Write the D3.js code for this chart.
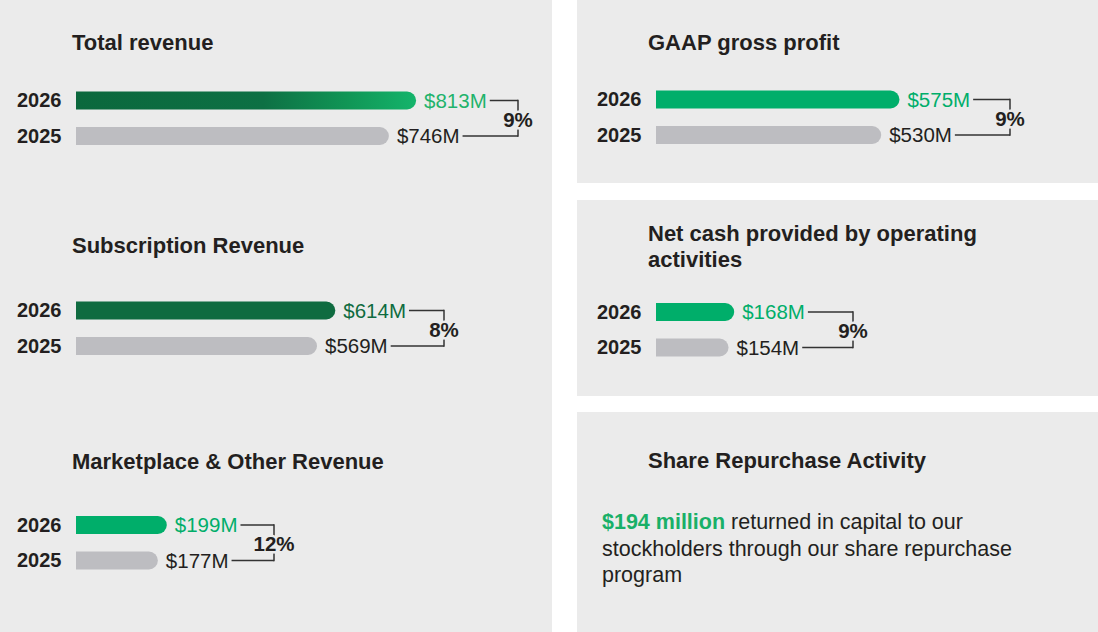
<!DOCTYPE html>
<html>
<head>
<meta charset="utf-8">
<script src="https://cdn.jsdelivr.net/npm/d3@7/dist/d3.min.js"></script>
<style>
  body { margin: 0; background: #ffffff; }
  svg { display: block; font-family: "Liberation Sans", Arial, sans-serif; }
</style>
</head>
<body>
<div id="chart"></div>
<script>
// Data ($ millions)
//=====================================================================
var years = ["2026", "2025"];
var totalRevenue = [813, 746];
var subscriptionRevenue = [614, 569];
var marketplaceRevenue = [199, 177];
var gaapGrossProfit = [575, 530];
var netCash = [168, 154];
var growth = ["9%", "8%", "12%", "9%", "9%"];
var repurchaseAmount = "$194 million";
var repurchaseText = [" returned in capital to our", "stockholders through our share repurchase", "program"];

// Set up page and panel geometry
//=====================================================================
var svgWidth = 1098;
var svgHeight = 632;

var panelColor = "#ebebeb";
var textColor = "#231f20";
var green = "#00ae6a";
var darkGreen = "#0f6b40";
var grey = "#bdbdc1";

var panels = [
    { x: 0, y: 0, w: 552, h: 632 },
    { x: 577, y: 0, w: 521, h: 183 },
    { x: 577, y: 200, w: 521, h: 196 },
    { x: 577, y: 412, w: 521, h: 220 }
];

var charts = [
    { title: ["Total revenue"], values: totalRevenue, pct: growth[0], left: 0, titleX: 72, titleY: 50, cy: 100.5, bracketX: 518, fill: "url(#revGrad)", labelColor: "#1fb36c" },
    { title: ["Subscription Revenue"], values: subscriptionRevenue, pct: growth[1], left: 0, titleX: 72, titleY: 253, cy: 310.5, bracketX: 444, fill: darkGreen, labelColor: darkGreen },
    { title: ["Marketplace & Other Revenue"], values: marketplaceRevenue, pct: growth[2], left: 0, titleX: 72, titleY: 469, cy: 525, bracketX: 274, fill: green, labelColor: green },
    { title: ["GAAP gross profit"], values: gaapGrossProfit, pct: growth[3], left: 580, titleX: 648, titleY: 50, cy: 99.5, bracketX: 1010, fill: green, labelColor: green },
    { title: ["Net cash provided by operating", "activities"], values: netCash, pct: growth[4], left: 580, titleX: 648, titleY: 241, cy: 312, bracketX: 853, fill: green, labelColor: green }
];

var barHeight = 18;
var rowGap = 35.5;

// bar length scale, shared by all charts (rounded cap adds a few px)
var xScale = d3.scaleLinear()
    .domain([0, 1000])
    .range([10, 416]);

var svg = d3.select("#chart")
    .append("svg")
    .attr("width", svgWidth)
    .attr("height", svgHeight);

var defs = svg.append("defs");
var grad = defs.append("linearGradient")
    .attr("id", "revGrad")
    .attr("x1", "0").attr("x2", "1").attr("y1", "0").attr("y2", "0");
grad.append("stop").attr("offset", "0").attr("stop-color", "#0b683d");
grad.append("stop").attr("offset", "0.55").attr("stop-color", "#0d7044");
grad.append("stop").attr("offset", "0.8").attr("stop-color", "#109656");
grad.append("stop").attr("offset", "1").attr("stop-color", "#14b46b");

// Panels
//=====================================================================
svg.selectAll("rect.panel")
    .data(panels)
    .enter()
    .append("rect")
    .attr("class", "panel")
    .attr("x", d => d.x)
    .attr("y", d => d.y)
    .attr("width", d => d.w)
    .attr("height", d => d.h)
    .attr("fill", panelColor);

// bar with a square left end and a round right end
function barPath(x, y, w, h) {
    var r = h / 2;
    return "M" + x + "," + y +
        "H" + (x + w - r) +
        "A" + r + "," + r + " 0 0 1 " + (x + w - r) + "," + (y + h) +
        "H" + x + "Z";
}

// Draw each chart
//=====================================================================
charts.forEach(function (c) {
    var g = svg.append("g");
    var yearX = c.left + 17;
    var barX = c.left + 76;

    g.selectAll("text.title")
        .data(c.title)
        .enter()
        .append("text")
        .attr("class", "title")
        .attr("x", c.titleX)
        .attr("y", (d, i) => c.titleY + i * 26)
        .attr("fill", textColor)
        .style("font-size", "22px")
        .style("font-weight", "bold")
        .text(d => d);

    var rows = c.values.map(function (v, i) {
        return { year: years[i], value: v, cy: c.cy + i * rowGap, i: i };
    });

    g.selectAll("text.year")
        .data(rows)
        .enter()
        .append("text")
        .attr("class", "year")
        .attr("x", yearX)
        .attr("y", d => d.cy + 6.5)
        .attr("fill", textColor)
        .style("font-size", "20px")
        .style("font-weight", "bold")
        .text(d => d.year);

    g.selectAll("path.bar")
        .data(rows)
        .enter()
        .append("path")
        .attr("class", "bar")
        .attr("d", d => barPath(barX, d.cy - barHeight / 2, xScale(d.value), barHeight))
        .attr("fill", d => d.i === 0 ? c.fill : grey);

    var labels = g.selectAll("text.value")
        .data(rows)
        .enter()
        .append("text")
        .attr("class", "value")
        .attr("x", d => barX + xScale(d.value) + 8)
        .attr("y", d => d.cy + 7)
        .attr("fill", d => d.i === 0 ? c.labelColor : textColor)
        .style("font-size", "20.5px")
        .text(d => "$" + d.value + "M");

    // bracket joining the two labels
    labels.each(function (d) {
        var end = barX + xScale(d.value) + 8 + this.getComputedTextLength() + 3;
        g.append("line")
            .attr("x1", end).attr("x2", c.bracketX)
            .attr("y1", d.cy).attr("y2", d.cy)
            .attr("stroke", "#333")
            .attr("stroke-width", 1.5);
    });
    g.append("line")
        .attr("x1", c.bracketX).attr("x2", c.bracketX)
        .attr("y1", rows[0].cy - 0.75).attr("y2", rows[1].cy + 0.75)
        .attr("stroke", "#333")
        .attr("stroke-width", 1.5);

    g.append("text")
        .attr("x", c.bracketX)
        .attr("y", (rows[0].cy + rows[1].cy) / 2 + 8.5)
        .attr("text-anchor", "middle")
        .attr("fill", textColor)
        .attr("stroke", panelColor)
        .attr("stroke-width", 5)
        .attr("paint-order", "stroke")
        .style("font-size", "20.5px")
        .style("font-weight", "bold")
        .text(c.pct);
});

// Share repurchase panel
//=====================================================================
svg.append("text")
    .attr("x", 648)
    .attr("y", 468)
    .attr("fill", textColor)
    .style("font-size", "22px")
    .style("font-weight", "bold")
    .text("Share Repurchase Activity");

var body = svg.append("text")
    .attr("fill", textColor)
    .style("font-size", "21.5px");

repurchaseText.forEach(function (line, i) {
    if (i === 0) {
        body.append("tspan")
            .attr("x", 602)
            .attr("y", 529)
            .attr("fill", "#19b068")
            .style("font-weight", "bold")
            .text(repurchaseAmount);
        body.append("tspan").text(line);
    } else {
        body.append("tspan")
            .attr("x", 602)
            .attr("y", 529 + i * 26.5)
            .text(line);
    }
});
</script>
</body>
</html>
